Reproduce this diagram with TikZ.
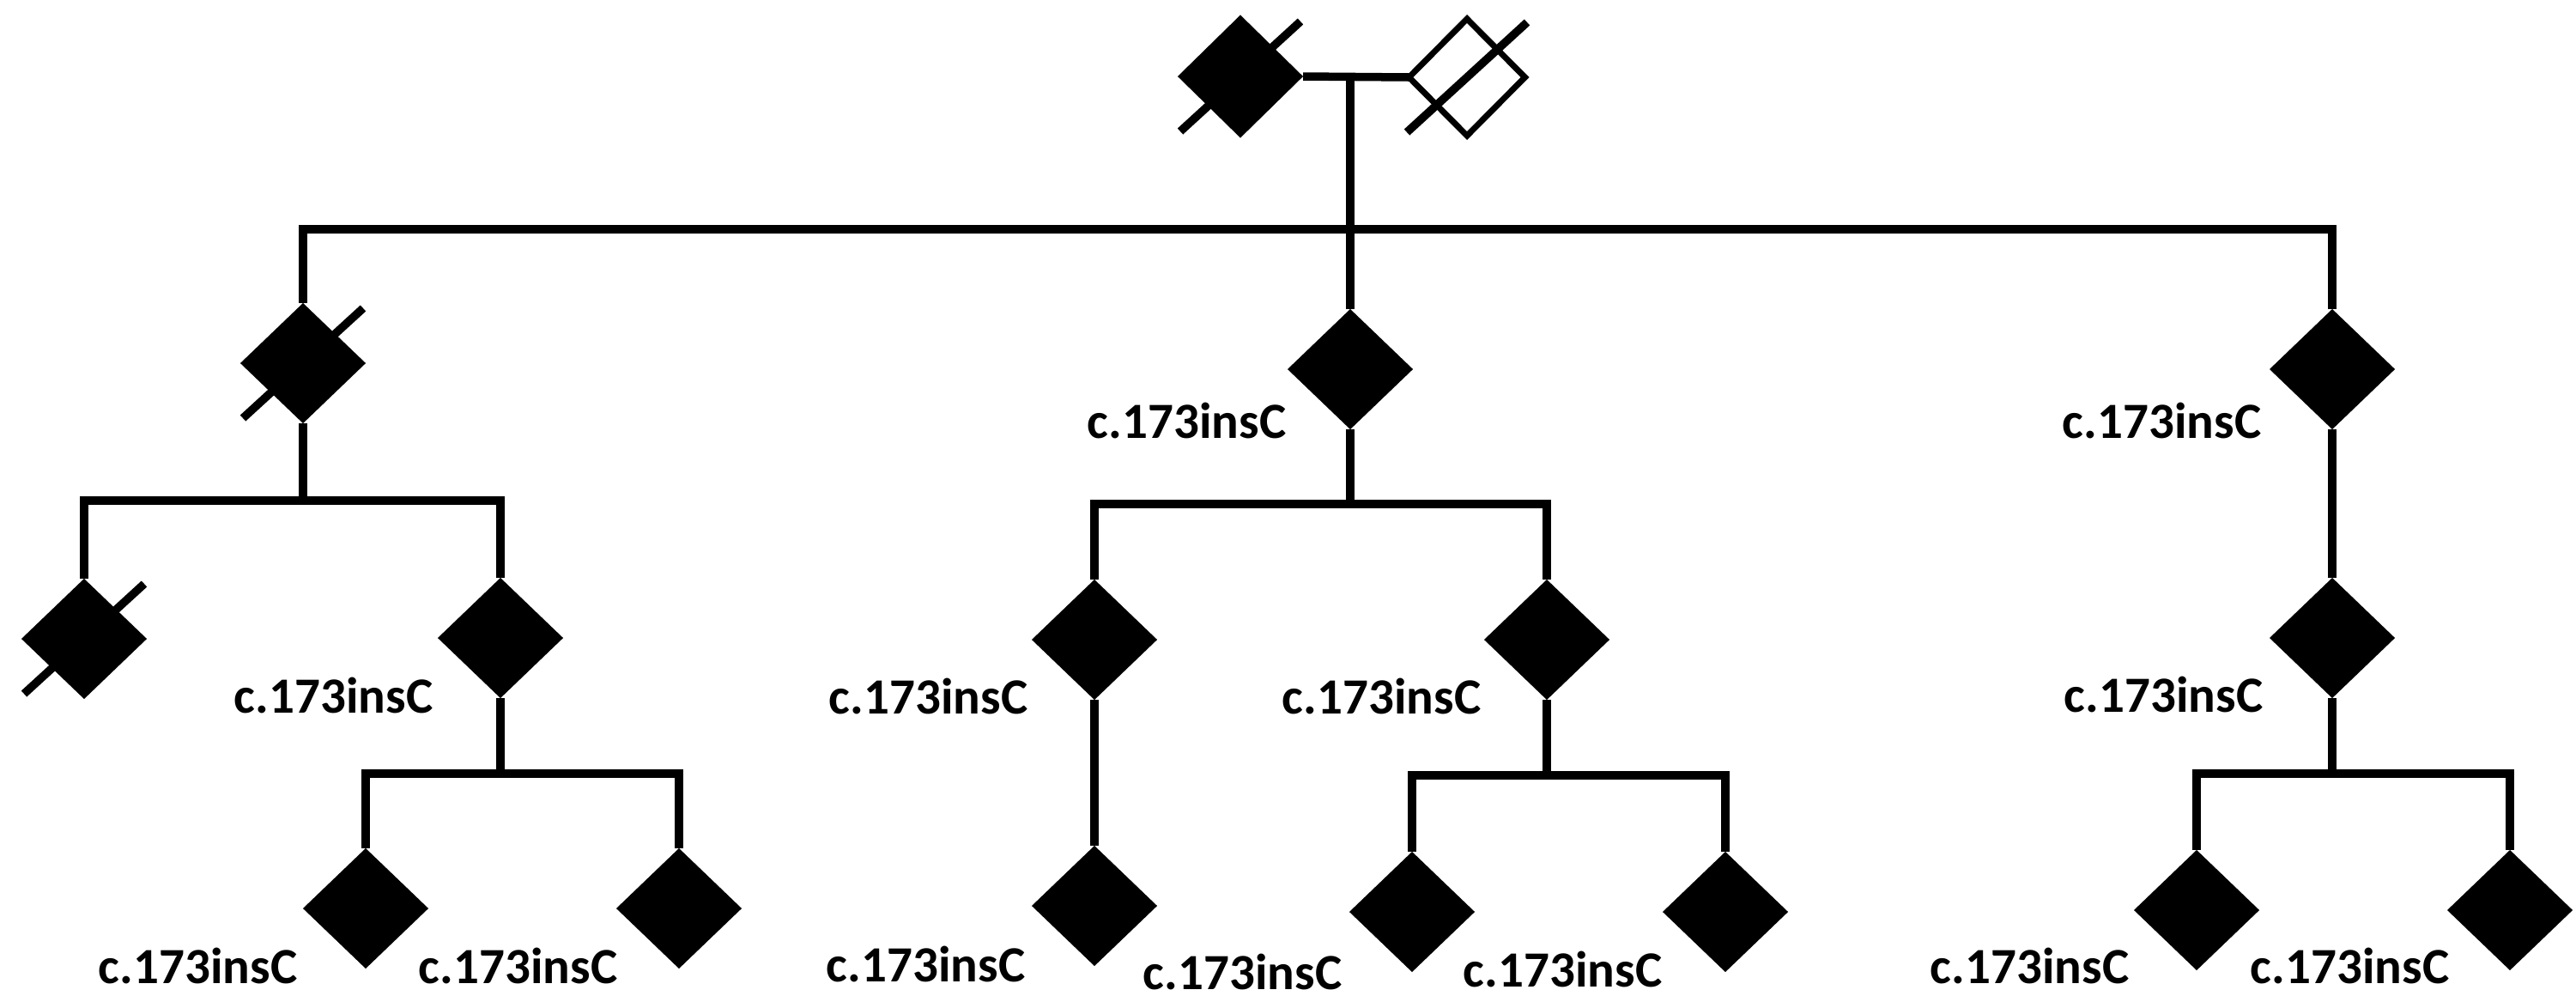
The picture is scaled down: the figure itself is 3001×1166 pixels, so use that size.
\documentclass[tikz,border=0pt]{standalone}
\usepackage{fontspec}
\setmainfont{Carlito}
\usetikzlibrary{shapes.geometric}
\begin{document}
\begin{tikzpicture}[x=0.01cm,y=-0.01cm,
  kin/.style={line width=0.095cm},
  aff/.style={shape=diamond,fill=black,draw=none,inner sep=0pt,outer sep=0pt,minimum width=1.46cm,minimum height=1.40cm},
  unaff/.style={shape=diamond,fill=white,draw=black,line width=0.07cm,inner sep=0pt,outer sep=0pt,minimum width=1.35cm,minimum height=1.36cm},
  mut/.style={font=\bfseries\fontsize{16.8}{18}\selectfont,anchor=base east,inner sep=0pt}]
\useasboundingbox (0,0) rectangle (3001,1166);

% generation I
\node[aff,minimum height=1.43cm] (F) at (1445,89) {};
\node[unaff] (M) at (1709,90) {};
\coordinate (mar) at (1573,89);
% generation II
\node[aff] (II1) at (353,423) {};
\node[aff] (II2) at (1573,430) {};
\node[aff] (II3) at (2717,430) {};
% generation III
\node[aff] (III1) at (98,744) {};
\node[aff] (III2) at (583,743) {};
\node[aff] (III3) at (1275,745) {};
\node[aff] (III4) at (1802,745) {};
\node[aff] (III5) at (2717,743) {};
% generation IV
\node[aff] (IV1) at (426,1058) {};
\node[aff] (IV2) at (791,1058) {};
\node[aff] (IV3) at (1275,1055) {};
\node[aff] (IV4) at (1645,1062) {};
\node[aff] (IV5) at (2010,1062) {};
\node[aff] (IV6) at (2559,1060) {};
\node[aff] (IV7) at (2924,1060) {};

% sibship junctions
\coordinate (s1) at (1573,267);
\coordinate (s2) at (353,583);
\coordinate (s3) at (1573,587);
\coordinate (s4) at (583,901);
\coordinate (s5) at (1802,903);
\coordinate (s6) at (2717,901);

% connectors
\draw[kin] (F.east) -- (M.west);
\draw[kin] (mar) -- (s1);
\draw[kin] (II1.north) |- (s1) -| (II3.north);
\draw[kin] (s1) -- (II2.north);
\draw[kin] (II1.south) -- (s2);
\draw[kin] (III1.north) |- (s2) -| (III2.north);
\draw[kin] (II2.south) -- (s3);
\draw[kin] (III3.north) |- (s3) -| (III4.north);
\draw[kin] (II3.south) -- (III5.north);
\draw[kin] (III2.south) -- (s4);
\draw[kin] (IV1.north) |- (s4) -| (IV2.north);
\draw[kin] (III3.south) -- (IV3.north);
\draw[kin] (III4.south) -- (s5);
\draw[kin] (IV4.north) |- (s5) -| (IV5.north);
\draw[kin] (III5.south) -- (s6);
\draw[kin] (IV6.north) |- (s6) -| (IV7.north);

% deceased strikes
\foreach \p in {F,M,II1,III1}
  \draw[kin] (\p) ++(-70,64) -- ++(140,-128);

% mutation labels
\node[mut] (L1) at (1499,510) {c.173insC};
\node[mut] (L2) at (2635,510) {c.173insC};
\node[mut] (L3) at (505,830) {c.173insC};
\node[mut] (L4) at (1198,831) {c.173insC};
\node[mut] (L5) at (1726,831) {c.173insC};
\node[mut] (L6) at (2637,829) {c.173insC};
\node[mut] (L7) at (347,1145) {c.173insC};
\node[mut] (L8) at (720,1145) {c.173insC};
\node[mut] (L9) at (1195,1143) {c.173insC};
\node[mut] (L10) at (1564,1152) {c.173insC};
\node[mut] (L11) at (1937,1149) {c.173insC};
\node[mut] (L12) at (2481,1145) {c.173insC};
\node[mut] (L13) at (2854,1145) {c.173insC};
\end{tikzpicture}
\end{document}
